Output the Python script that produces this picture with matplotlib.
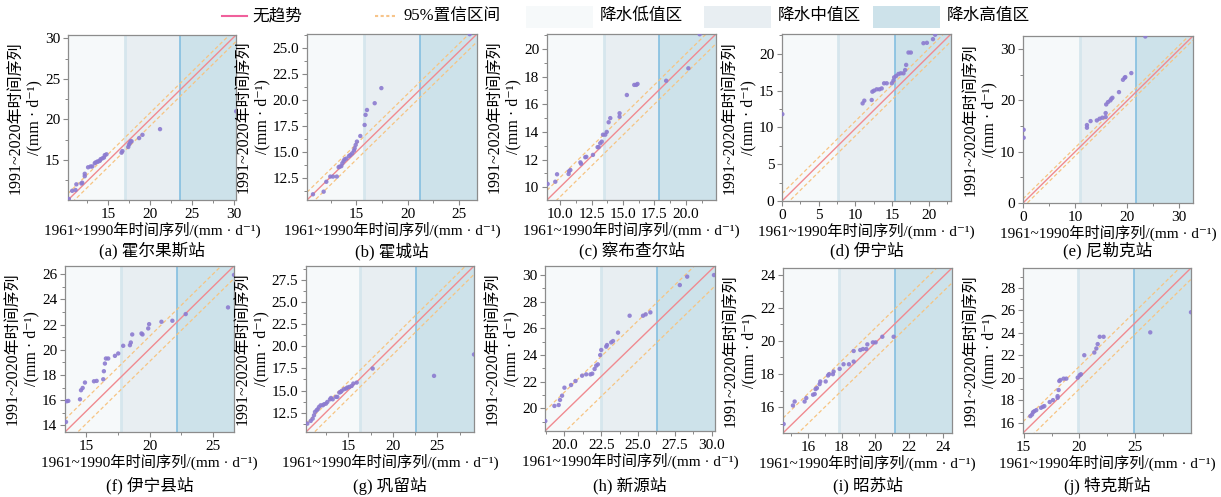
import numpy as np
import matplotlib
matplotlib.use('Agg')
import matplotlib.pyplot as plt
from matplotlib.lines import Line2D
from matplotlib.patches import Rectangle
from matplotlib.ticker import AutoMinorLocator, FormatStrFormatter

plt.rcParams['font.family'] = ['Liberation Serif', 'Noto Sans CJK SC', 'DejaVu Serif']

# 站点名
stations = ['(a) 霍尔果斯站', '(b) 霍城站', '(c) 察布查尔站', '(d) 伊宁站', '(e) 尼勒克站',
            '(f) 伊宁县站', '(g) 巩留站', '(h) 新源站', '(i) 昭苏站', '(j) 特克斯站']

# 1961~1990 (x) vs 1991~2020 (y)
a_x = [10.3, 10.7, 11.1, 11.2, 11.8, 11.9, 12.2, 12.2, 12.6, 12.9, 13.1, 13.4, 13.5, 13.7, 13.8, 14.0,
       14.1, 14.3, 14.5, 14.6, 14.8, 16.6, 16.7, 17.4, 17.5, 17.6, 17.7, 17.8, 18.7, 19.1, 21.2, 30.3]
a_y = [10.2, 11.2, 11.3, 12.0, 12.1, 12.2, 13.0, 13.3, 14.1, 14.2, 14.2, 14.6, 14.7, 14.8, 14.8, 14.9,
       15.1, 15.2, 15.3, 15.6, 15.7, 15.9, 16.1, 16.6, 16.9, 17.1, 17.3, 17.3, 17.7, 18.1, 18.8, 21.0]
b_x = [10.78, 11.82, 12.08, 12.47, 12.73, 13.1, 13.28, 13.38, 13.54, 13.64, 13.77, 13.86, 14.03, 14.29,
       14.42, 14.6, 14.77, 14.84, 14.94, 15.06, 15.39, 15.81, 15.9, 16.04, 16.79, 17.44, 26.04]
b_y = [10.9, 11.15, 12.1, 12.6, 12.6, 12.6, 13.5, 13.56, 13.6, 13.88, 14.1, 14.26, 14.33, 14.58,
       14.68, 14.84, 15.1, 15.32, 15.64, 15.96, 16.5, 17.56, 18.53, 19.0, 19.65, 21.1, 26.28]
c_x = [8.99, 9.6, 9.74, 10.66, 10.7, 10.8, 11.6, 11.65, 11.99, 12.07, 12.6, 12.97, 13.05, 13.18, 13.3,
       13.4, 13.58, 13.7, 13.85, 13.98, 14.72, 14.72, 15.3, 15.89, 16.05, 16.15, 18.43, 20.2, 21.1]
c_y = [10.24, 10.4, 10.94, 10.96, 11.16, 11.25, 11.8, 11.7, 12.17, 12.2, 12.34, 12.9, 12.9, 13.18, 13.3,
       13.8, 13.8, 14.0, 14.7, 15.0, 15.35, 15.1, 16.67, 17.4, 17.4, 17.47, 17.7, 18.6, 21.06]
d_x = [0.05, 11.0, 11.23, 12.24, 12.33, 12.56, 12.92, 13.29, 13.6, 13.93, 14.29, 14.98, 15.2, 15.3,
       15.57, 15.89, 16.2, 16.58, 16.8, 16.94, 17.26, 17.58, 19.3, 19.77, 20.6, 20.9]
d_y = [11.8, 13.27, 13.64, 13.73, 14.86, 15.0, 15.18, 15.18, 15.3, 16.0, 16.0, 16.0, 16.36, 16.8,
       17.0, 17.27, 17.36, 17.36, 17.8, 18.5, 20.18, 20.18, 21.45, 21.5, 22.0, 22.6]
e_x = [0.13, 0.13, 12.3, 12.3, 13.0, 14.2, 14.74, 15.26, 15.9, 15.9, 16.0, 16.35, 16.8, 16.99, 17.2,
       18.46, 19.23, 19.55, 19.68, 20.83, 23.53]
e_y = [14.26, 12.7, 14.65, 15.17, 15.94, 16.07, 16.4, 16.6, 16.72, 17.5, 19.18, 19.64, 19.96, 20.28,
       20.48, 21.58, 23.98, 24.37, 24.5, 25.28, 32.4]
f_x = [13.43, 13.48, 13.61, 14.53, 14.61, 14.74, 14.92, 15.63, 15.84, 16.36, 16.41, 16.49, 16.57, 16.75,
       17.28, 17.54, 17.93, 18.46, 18.53, 18.64, 19.37, 19.45, 19.9, 19.97, 20.94, 21.8, 22.85, 26.18, 26.65]
f_y = [14.27, 15.91, 15.94, 16.07, 16.79, 16.97, 17.4, 17.5, 17.53, 17.66, 18.3, 18.91, 19.31, 19.31,
       19.52, 19.71, 20.32, 20.37, 20.58, 21.22, 21.3, 21.22, 21.7, 22.04, 22.23, 22.31, 22.84, 23.37, 25.95]
g_x = [10.39, 10.77, 10.99, 11.14, 11.25, 11.44, 11.55, 11.7, 11.89, 12.12, 12.27, 12.49, 12.64, 12.94,
       13.05, 13.24, 13.61, 13.76, 13.99, 14.14, 14.25, 14.51, 14.74, 14.89, 15.11, 15.37, 15.56, 15.94,
       17.73, 24.63, 29.12]
g_y = [11.26, 11.56, 11.82, 12.2, 12.58, 12.77, 12.88, 13.14, 13.33, 13.33, 13.45, 13.52, 13.71, 14.01,
       14.16, 14.01, 14.28, 14.28, 14.77, 14.84, 14.96, 15.15, 15.22, 15.34, 15.41, 15.52, 15.79, 15.9,
       17.49, 16.66, 19.08]
h_x = [18.7, 19.32, 19.61, 19.7, 19.84, 20.0, 20.45, 20.75, 21.2, 21.48, 21.77, 21.89, 22.05, 22.16,
       22.27, 22.43, 22.5, 22.84, 22.89, 23.18, 23.3, 23.64, 24.43, 25.34, 25.52, 25.84, 27.84, 28.34, 30.16]
h_y = [19.05, 20.18, 20.25, 20.63, 20.95, 21.55, 21.75, 22.05, 22.45, 22.55, 22.55, 22.6, 22.95, 23.2,
       23.3, 24.0, 24.38, 24.63, 24.75, 24.95, 25.05, 25.68, 26.95, 26.95, 27.05, 27.2, 29.25, 29.88, 30.0]
i_x = [14.56, 15.11, 15.21, 15.8, 15.9, 16.3, 16.4, 16.45, 16.53, 16.69, 16.73, 17.05, 17.19, 17.25,
       17.48, 17.52, 17.88, 18.11, 18.43, 18.71, 18.71, 19.1, 19.26, 19.46, 19.52, 19.85, 20.01, 20.41, 21.08]
i_y = [14.98, 16.1, 16.34, 16.34, 16.55, 16.75, 16.79, 17.09, 17.15, 17.39, 17.55, 17.55, 17.91, 17.99,
       17.99, 18.15, 18.31, 18.59, 18.59, 18.75, 19.39, 19.45, 19.51, 19.51, 19.79, 19.91, 19.91, 20.25, 20.25]
j_x = [15.6, 15.75, 15.84, 15.96, 16.13, 16.55, 16.73, 16.85, 17.33, 17.63, 18.04, 18.04, 18.13, 18.19,
       18.28, 18.58, 18.82, 19.84, 20.01, 20.13, 20.43, 21.33, 21.51, 21.63, 21.81, 22.16, 26.34, 29.99]
j_y = [16.6, 16.74, 16.95, 17.04, 17.13, 17.34, 17.43, 17.49, 17.85, 18.02, 18.23, 18.38, 18.92, 19.72,
       19.81, 19.93, 19.93, 20.02, 20.23, 20.32, 22.01, 22.25, 22.61, 23.0, 23.65, 23.65, 24.04, 25.83]

xs = [a_x, b_x, c_x, d_x, e_x, f_x, g_x, h_x, i_x, j_x]
ys = [a_y, b_y, c_y, d_y, e_y, f_y, g_y, h_y, i_y, j_y]

# 降水低/中/高值区分界
low_bound = [17.0, 15.71, 13.45, 7.67, 10.9, 17.75, 16.33, 22.5, 17.82, 19.85]
high_bound = [23.6, 21.17, 17.88, 15.43, 21.67, 22.2, 22.62, 26.32, 21.14, 24.85]
# 95%置信区间半宽
ci = [0.8, 0.75, 0.7, 1.0, 0.8, 1.0, 0.95, 1.5, 0.9, 1.0]

xlims = [(10.2, 30.28), (10.2, 26.75), (8.94, 22.4), (0, 23.06), (0, 32.7),
         (13.35, 26.65), (10.24, 29.12), (18.68, 30.23), (14.52, 24.54), (14.94, 29.99)]
ylims = [(10.07, 30.4), (10.35, 26.3), (9.08, 21.08), (0, 22.7), (0, 32.5),
         (13.47, 26.66), (10.31, 29.09), (18.3, 30.68), (14.44, 24.4), (15.1, 29.76)]
xticks = [[15, 20, 25, 30], [15, 20, 25], [10, 12.5, 15, 17.5, 20], [0, 5, 10, 15, 20], [0, 10, 20, 30],
          [15, 20, 25], [15, 20, 25], [20, 22.5, 25, 27.5, 30], [16, 18, 20, 22, 24], [15, 20, 25]]
yticks = [[15, 20, 25, 30], [12.5, 15, 17.5, 20, 22.5, 25], [10, 12, 14, 16, 18, 20], [0, 5, 10, 15, 20],
          [0, 10, 20, 30], [14, 16, 18, 20, 22, 24, 26], [12.5, 15, 17.5, 20, 22.5, 25, 27.5],
          [20, 22, 24, 26, 28, 30], [16, 18, 20, 22, 24], [16, 18, 20, 22, 24, 26, 28]]
xfmt = ['%d', '%d', '%.1f', '%d', '%d', '%d', '%d', '%.1f', '%d', '%d']
yfmt = ['%d', '%.1f', '%d', '%d', '%d', '%d', '%.1f', '%d', '%d', '%d']

c_low, c_mid, c_high = '#f6f9fa', '#e8eef2', '#cde2ea'
c_line, c_ci, c_dot = '#f08a90', '#f6c482', '#8c7bd0'

W, H = 1221, 497
boxes = [(68, 35, 236, 200), (307, 34, 477, 200), (547, 34, 716, 200), (782, 34, 951, 201), (1023, 36, 1193, 203),
         (65, 266, 234, 432), (306, 266, 474, 432), (545, 266, 715, 431), (783, 268, 952, 433), (1023, 268, 1191, 433)]
sub_y = [251, 486]   # 子图标题中心 (像素, 自上而下)

fig = plt.figure(figsize=(W / 100, H / 100), dpi=100)

for k in range(10):
    L, T, R, B = boxes[k]
    ax = fig.add_axes([L / W, 1 - B / H, (R - L) / W, (B - T) / H])
    x0, x1 = xlims[k]
    y0, y1 = ylims[k]
    ax.axvspan(x0, low_bound[k], color=c_low, lw=0, zorder=0)
    ax.axvspan(low_bound[k], high_bound[k], color=c_mid, lw=0, zorder=0)
    ax.axvspan(high_bound[k], x1, color=c_high, lw=0, zorder=0)
    ax.axvline(low_bound[k], color='#d6e6ed', lw=2, zorder=1)
    ax.axvline(high_bound[k], color='#84bfe0', lw=1.2, zorder=1)

    ax.plot([x0, x1], [y0, y1], color=c_line, lw=1, zorder=2)
    ax.plot([x0, x1], [y0 + ci[k], y1 + ci[k]], color=c_ci, lw=0.9, ls=(0, (3, 2)), zorder=2)
    ax.plot([x0, x1], [y0 - ci[k], y1 - ci[k]], color=c_ci, lw=0.9, ls=(0, (3, 2)), zorder=2)
    ax.scatter(xs[k], ys[k], s=10, color=c_dot, edgecolors='none', alpha=0.9, zorder=3)

    ax.set_xlim(x0, x1)
    ax.set_ylim(y0, y1)
    ax.set_xticks(xticks[k])
    ax.set_yticks(yticks[k])
    ax.xaxis.set_major_formatter(FormatStrFormatter(xfmt[k]))
    ax.yaxis.set_major_formatter(FormatStrFormatter(yfmt[k]))
    ax.xaxis.set_minor_locator(AutoMinorLocator(2))
    ax.yaxis.set_minor_locator(AutoMinorLocator(2))
    ax.tick_params(which='major', direction='out', length=3.5, width=0.8, color='#888888',
                   labelsize=11, pad=2)
    ax.tick_params(which='minor', direction='out', length=2, width=0.7, color='#888888')
    for s in ax.spines.values():
        s.set_color('#8c8c8c')
        s.set_linewidth(0.9)

    ax.set_xlabel('1961~1990年时间序列/(mm · d⁻¹)', fontsize=11, labelpad=1)
    ax.set_ylabel('1991~2020年时间序列\n/(mm · d⁻¹)', fontsize=11.5, linespacing=1.15, labelpad=2)
    fig.text((L + R) / 2 / W, 1 - sub_y[k // 5] / H, stations[k], fontsize=12,
             ha='center', va='center')

# 图例
ly = 1 - 16 / H
fig.add_artist(Line2D([222 / W, 247 / W], [ly, ly], color='#f0609c', lw=1.5, transform=fig.transFigure))
fig.text(252 / W, ly, '无趋势', va='center', ha='left', fontsize=12)
fig.add_artist(Line2D([375 / W, 395 / W], [ly, ly], color='#f7c48a', lw=1.5, ls=(0, (1.5, 1.2)),
                      transform=fig.transFigure))
fig.text(403 / W, ly, '95%置信区间', va='center', ha='left', fontsize=12)
for px, col, txt in [(526, c_low, '降水低值区'), (704, c_mid, '降水中值区'), (873, c_high, '降水高值区')]:
    fig.add_artist(Rectangle((px / W, 1 - 28 / H), 67 / W, 22 / H, facecolor=col, edgecolor='none',
                             transform=fig.transFigure))
    fig.text((px + 74) / W, ly, txt, va='center', ha='left', fontsize=12)

fig.savefig('out.png', dpi=100)
